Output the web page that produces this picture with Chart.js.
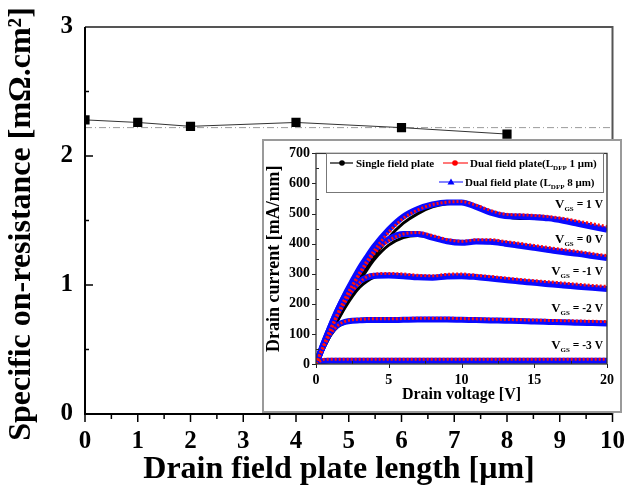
<!DOCTYPE html>
<html><head><meta charset="utf-8">
<script src="https://cdn.jsdelivr.net/npm/chart.js@4.4.1/dist/chart.umd.min.js"></script>
<style>
html,body{margin:0;padding:0;background:#fff;}
#wrap{position:relative;width:638px;height:493px;overflow:hidden;}
#main{position:absolute;left:0;top:0;}
#inset{position:absolute;left:262px;top:139px;}
</style></head><body>
<div id="wrap">
<canvas id="main" width="638" height="493"></canvas>
<canvas id="inset" width="360" height="274"></canvas>
</div>
<script>
// ---------- main chart data ----------
const plateLength = [0, 1, 2, 4, 6, 8];
const onResistance = [2.28, 2.26, 2.23, 2.26, 2.22, 2.17];
const refLevel = 2.22;
const mainXTitle = 'Drain field plate length [μm]';
const mainYTitle = 'Specific on-resistance [mΩ.cm²]';

// ---------- inset data ----------
const drainV = [0,0.5,1,1.5,2,2.5,3,3.5,4,5,6,7,8,9,10,11,12,13,14,15,16,17,18,19,20];
const vgsLabels = ['1', '0', '-1', '-2', '-3'];
const vgsLabelY = [533, 414, 309, 187, 62];

const single_vgs1  = [0,50,100,150,197,242,283,322,357,420,468,500,522,533,535,522,505,490,484,484,482,476,467,458,449];
const dual1_vgs1   = [0,58,115,168,218,262,303,342,377,438,484,512,530,538,540,528,510,498,496,494,490,484,475,466,457];
const dual8_vgs1   = [0,65,125,180,230,275,318,355,390,447,490,515,530,537,537,522,503,492,490,488,484,476,466,456,446];

const single_vgs0  = [0,50,100,148,192,235,275,313,347,395,420,427,420,408,402,405,403,398,392,385,378,371,365,358,352];
const dual1_vgs0   = [0,58,115,168,215,258,298,335,367,410,432,437,427,414,408,413,413,407,401,394,387,380,374,367,360];
const dual8_vgs0   = [0,65,125,180,228,270,308,345,378,415,432,432,420,408,403,407,406,400,393,386,379,372,366,359,352];

const single_vgsm1 = [0,50,98,145,188,225,255,275,288,293,292,289,287,291,292,289,284,279,275,271,266,262,258,254,250];
const dual1_vgsm1  = [0,57,112,162,205,242,270,290,298,301,299,295,293,298,299,295,291,286,281,277,273,269,265,261,258];
const dual8_vgsm1  = [0,63,120,172,215,250,275,288,293,294,292,288,287,291,292,289,284,279,274,270,265,261,257,253,249];

const single_vgsm2 = [0,50,95,124,137,143,145,146,146,146,147,148,148,148,147,146,145,144,143,141,140,139,137,136,135];
const dual1_vgsm2  = [0,55,100,128,142,147,149,150,150,150,151,152,152,152,151,150,149,148,147,146,145,144,143,142,141];
const dual8_vgsm2  = [0,60,105,130,140,144,145,146,146,146,147,148,148,148,147,146,145,144,143,141,140,139,137,136,135];

const single_vgsm3 = [0,9,10,10,10,10,10,10,10,10,10,10,10,10,10,10,10,10,10,10,10,10,10,10,10];
const dual1_vgsm3  = [0,15,16,16,16,16,16,16,16,16,16,16,16,16,16,16,16,16,16,16,16,16,16,16,16];
const dual8_vgsm3  = [0,10,11,11,11,11,11,11,11,11,11,11,11,11,11,11,11,11,11,11,11,11,11,11,11];

const SERIF = "'Liberation Serif','Times New Roman',serif";

// ---------- main chart ----------
const mainDeco = {
  id: 'mainDeco',
  beforeDraw(c) {
    const ctx = c.ctx; ctx.save(); ctx.fillStyle = '#fff'; ctx.fillRect(0, 0, c.width, c.height); ctx.restore();
  },
  afterDraw(c) {
    const {ctx, chartArea: a, scales: {x, y}} = c;
    ctx.save();
    ctx.strokeStyle = '#000'; ctx.lineWidth = 1.5;
    for (let i = 0; i <= 20; i++) {
      const px = x.getPixelForValue(i / 2);
      const len = (i % 2 === 0) ? 8 : 5;
      ctx.beginPath(); ctx.moveTo(px, a.bottom); ctx.lineTo(px, a.bottom + len); ctx.stroke();
    }
    for (let i = 0; i <= 6; i++) {
      const py = y.getPixelForValue(i / 2);
      const len = (i % 2 === 0) ? 8 : 4;
      ctx.beginPath(); ctx.moveTo(a.left, py); ctx.lineTo(a.left + len, py); ctx.stroke();
    }
    ctx.lineWidth = 2;
    ctx.strokeStyle = '#555';
    ctx.beginPath(); ctx.moveTo(a.left, a.top); ctx.lineTo(a.right, a.top); ctx.lineTo(a.right, a.bottom); ctx.stroke();
    ctx.strokeStyle = '#000';
    ctx.beginPath(); ctx.moveTo(a.left, a.top); ctx.lineTo(a.left, a.bottom); ctx.lineTo(a.right, a.bottom); ctx.stroke();
    // axis titles
    ctx.fillStyle = '#000';
    ctx.font = 'bold 32px ' + SERIF;
    ctx.textAlign = 'center'; ctx.textBaseline = 'middle';
    ctx.fillText(mainXTitle, 339, 470);
    ctx.translate(22, 224); ctx.rotate(-Math.PI / 2);
    ctx.fillText(mainYTitle, 0, 0);
    ctx.restore();
  }
};

new Chart(document.getElementById('main'), {
  type: 'scatter',
  data: {
    datasets: [
      {
        data: plateLength.map((v, i) => ({x: v, y: onResistance[i]})),
        showLine: true, borderColor: '#333', borderWidth: 1,
        pointStyle: 'rect', pointRadius: 6.5, pointBackgroundColor: '#000', pointBorderColor: '#000', pointBorderWidth: 0,
        order: 0
      },
      {
        data: [{x: 0, y: refLevel}, {x: 10, y: refLevel}],
        showLine: true, borderColor: '#9a9a9a', borderWidth: 1, borderDash: [7, 3, 1, 3],
        pointRadius: 0, order: 1
      }
    ]
  },
  options: {
    responsive: false, animation: false, events: [],
    layout: {padding: {left: 0, top: 20, right: 15, bottom: 0}},
    plugins: {legend: {display: false}, tooltip: {enabled: false}},
    scales: {
      x: {
        type: 'linear', min: 0, max: 10,
        afterFit: s => { s.height = 79; },
        ticks: {stepSize: 1, color: '#000', padding: 13, maxRotation: 0,
                font: {family: SERIF, size: 25, weight: 'bold'}},
        grid: {display: true, drawOnChartArea: false, drawTicks: false},
        border: {display: false},
        title: {display: false}
      },
      y: {
        type: 'linear', min: 0, max: 3,
        afterFit: s => { s.width = 85; },
        ticks: {stepSize: 1, color: '#000', padding: 12,
                font: {family: SERIF, size: 25, weight: 'bold'}},
        grid: {display: true, drawOnChartArea: false, drawTicks: false},
        border: {display: false},
        title: {display: false}
      }
    }
  },
  plugins: [mainDeco]
});

// ---------- inset chart ----------
function drawSubText(ctx, parts, x, y, align) {
  let total = 0;
  parts.forEach(p => { ctx.font = 'bold ' + p[1] + 'px ' + SERIF; p.w = ctx.measureText(p[0]).width; total += p.w; });
  let cx = align === 'right' ? x - total : x;
  ctx.textAlign = 'left'; ctx.textBaseline = 'alphabetic';
  parts.forEach(p => { ctx.font = 'bold ' + p[1] + 'px ' + SERIF; ctx.fillText(p[0], cx, y + p[2]); cx += p.w; });
}

const insetDeco = {
  id: 'insetDeco',
  beforeDraw(c) {
    const ctx = c.ctx; ctx.save(); ctx.fillStyle = '#fff'; ctx.fillRect(0, 0, c.width, c.height); ctx.restore();
  },
  afterDraw(c) {
    const {ctx, chartArea: a, scales: {x, y}} = c;
    ctx.save();
    ctx.strokeStyle = '#222'; ctx.lineWidth = 1;
    for (let i = 0; i <= 14; i++) {
      const py = Math.round(y.getPixelForValue(i * 50)) + 0.5;
      ctx.beginPath();
      if (i % 2 === 0) { ctx.moveTo(a.left - 4, py); ctx.lineTo(a.left, py); }
      else { ctx.moveTo(a.left, py); ctx.lineTo(a.left + 3, py); }
      ctx.stroke();
    }
    for (let i = 0; i <= 8; i++) {
      const px = Math.round(x.getPixelForValue(i * 2.5)) + 0.5;
      ctx.beginPath();
      if (i % 2 === 0) { ctx.moveTo(px, a.bottom); ctx.lineTo(px, a.bottom + 4); }
      else { ctx.moveTo(px, a.bottom); ctx.lineTo(px, a.bottom - 3); }
      ctx.stroke();
    }
    ctx.lineWidth = 1.3; ctx.strokeStyle = '#333';
    ctx.strokeRect(a.left, a.top, a.right - a.left, a.bottom - a.top);
    ctx.lineWidth = 2; ctx.strokeStyle = '#9a9a9a';
    ctx.strokeRect(1, 1, c.width - 2, c.height - 2);

    // legend box
    ctx.fillStyle = '#fff'; ctx.fillRect(64, 14, 277, 39);
    ctx.lineWidth = 1; ctx.strokeStyle = '#777';
    ctx.strokeRect(64.5, 14.5, 277, 39);
    ctx.fillStyle = '#000';
    const r1 = 24, r2 = 43;
    ctx.strokeStyle = '#000'; ctx.lineWidth = 1.2;
    ctx.beginPath(); ctx.moveTo(68, r1); ctx.lineTo(91, r1); ctx.stroke();
    ctx.beginPath(); ctx.arc(80, r1, 2.8, 0, Math.PI * 2); ctx.fill();
    drawSubText(ctx, [['Single field plate', 11, 0]], 94, r1 + 4, 'left');
    ctx.strokeStyle = '#ff2020'; ctx.fillStyle = '#ff0000';
    ctx.beginPath(); ctx.moveTo(181, r1); ctx.lineTo(206, r1); ctx.stroke();
    ctx.beginPath(); ctx.arc(193, r1, 2.8, 0, Math.PI * 2); ctx.fill();
    ctx.fillStyle = '#000';
    drawSubText(ctx, [['Dual field plate(L', 11, 0], ['DFP', 7, 3], [' 1 μm)', 11, 0]], 208, r1 + 4, 'left');
    ctx.strokeStyle = '#3030ff'; ctx.fillStyle = '#0000ff';
    ctx.beginPath(); ctx.moveTo(177, r2); ctx.lineTo(201, r2); ctx.stroke();
    ctx.beginPath(); ctx.moveTo(189, r2 - 3.5); ctx.lineTo(192.5, r2 + 2.5); ctx.lineTo(185.5, r2 + 2.5); ctx.closePath(); ctx.fill();
    ctx.fillStyle = '#000';
    drawSubText(ctx, [['Dual field plate (L', 11, 0], ['DFP', 7, 3], [' 8 μm)', 11, 0]], 203, r2 + 4, 'left');

    vgsLabels.forEach((lab, i) => {
      const py = y.getPixelForValue(vgsLabelY[i]);
      drawSubText(ctx, [['V', 13, 0], ['GS', 7, 3], [' = ' + lab + ' V', 11.5, 0]], a.right - 4, py + 4, 'right');
    });
    ctx.restore();
  }
};

function pts(arr) { return drainV.map((v, i) => ({x: v, y: arr[i]})); }
const groups = [
  [single_vgs1, dual1_vgs1, dual8_vgs1],
  [single_vgs0, dual1_vgs0, dual8_vgs0],
  [single_vgsm1, dual1_vgsm1, dual8_vgsm1],
  [single_vgsm2, dual1_vgsm2, dual8_vgsm2],
  [single_vgsm3, dual1_vgsm3, dual8_vgsm3]
];
const insetSets = [];
groups.forEach(g => {
  insetSets.push({data: pts(g[0]), showLine: true, borderColor: '#000', borderWidth: 3, pointRadius: 0, cubicInterpolationMode: 'monotone', order: 3});
  insetSets.push({data: pts(g[2]), showLine: true, borderColor: '#0a0aff', borderWidth: 6, pointRadius: 0, cubicInterpolationMode: 'monotone', order: 2});
  insetSets.push({data: pts(g[1]), showLine: true, borderColor: '#ff1010', borderWidth: 3, borderDash: [2, 2], pointRadius: 0, cubicInterpolationMode: 'monotone', order: 1});
});

new Chart(document.getElementById('inset'), {
  type: 'scatter',
  data: {datasets: insetSets},
  options: {
    responsive: false, animation: false, events: [],
    layout: {padding: {left: 0, top: 12, right: 14, bottom: 0}},
    plugins: {legend: {display: false}, tooltip: {enabled: false}},
    scales: {
      x: {
        type: 'linear', min: 0, max: 20,
        afterFit: s => { s.height = 49; },
        ticks: {stepSize: 5, color: '#000', padding: 8, maxRotation: 0,
                font: {family: SERIF, size: 14, weight: 'bold'}},
        grid: {display: true, drawOnChartArea: false, drawTicks: false},
        border: {display: false},
        title: {display: true, text: 'Drain voltage [V]', color: '#000',
                font: {family: SERIF, size: 16, weight: 'bold'}, padding: {top: 0, bottom: 9}}
      },
      y: {
        type: 'linear', min: 0, max: 700,
        afterFit: s => { s.width = 54; },
        ticks: {stepSize: 100, color: '#000', padding: 6,
                font: {family: SERIF, size: 14, weight: 'bold'}},
        grid: {display: true, drawOnChartArea: false, drawTicks: false},
        border: {display: false},
        title: {display: true, text: 'Drain current [mA/mm]', color: '#000',
                font: {family: SERIF, size: 18, weight: 'bold'}, padding: {top: 2, bottom: 0}}
      }
    }
  },
  plugins: [insetDeco]
});
</script>
</body></html>
